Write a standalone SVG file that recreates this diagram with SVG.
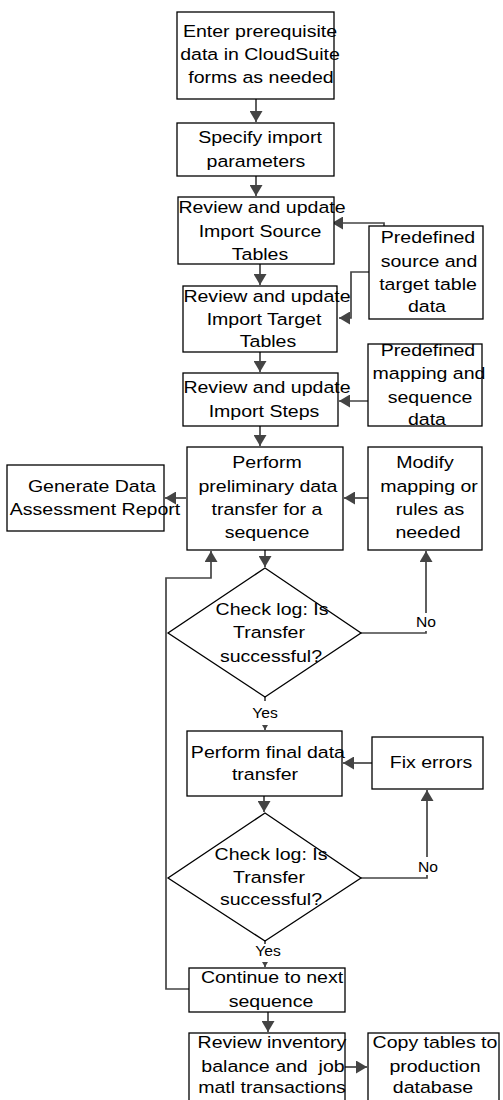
<svg xmlns="http://www.w3.org/2000/svg" width="503" height="1100" viewBox="0 0 503 1100">
<style>
.box{fill:#fff;stroke:#000;stroke-width:1.3}
.c{fill:none;stroke:#444;stroke-width:1.7}
.t{font-family:"Liberation Sans",Arial,sans-serif;font-size:17px;fill:#000;text-anchor:middle;transform-box:fill-box;transform-origin:center;transform:scaleX(1.15)}
.s{font-family:"Liberation Sans",Arial,sans-serif;font-size:14px;fill:#000;text-anchor:middle;transform-box:fill-box;transform-origin:center;transform:scaleX(1.12)}
.bg{fill:#fff;stroke:none}
</style>
<defs>
<marker id="a" markerUnits="userSpaceOnUse" markerWidth="11" markerHeight="13" viewBox="0 0 11 13" refX="11" refY="6.5" orient="auto"><path d="M0,0 L11,6.5 L0,13 z" fill="#444"/></marker>
<marker id="sa" markerUnits="userSpaceOnUse" markerWidth="5" markerHeight="6" viewBox="0 0 5 6" refX="5" refY="3" orient="auto"><path d="M0,0 L5,3 L0,6 z" fill="#444"/></marker>
</defs>
<rect width="503" height="1100" fill="#fff"/>
<g id="connectors">
<path class="c" d="M256,99 V122" marker-end="url(#a)"/>
<path class="c" d="M256,176 V196" marker-end="url(#a)"/>
<path class="c" d="M260,264 V285" marker-end="url(#a)"/>
<path class="c" d="M260,352 V372" marker-end="url(#a)"/>
<path class="c" d="M260,426 V446" marker-end="url(#a)"/>
<path class="c" d="M265,550 V567" marker-end="url(#a)"/>
<path class="c" d="M264,796 V812" marker-end="url(#a)"/>
<path class="c" d="M268,1012 V1032" marker-end="url(#a)"/>
<path class="c" d="M384,272 V223 H332" marker-end="url(#a)"/>
<path class="c" d="M384,272 H351 V318 H339" marker-end="url(#a)"/>
<path class="c" d="M369,385 H384 V401 H339" marker-end="url(#a)"/>
<path class="c" d="M368,498 H344" marker-end="url(#a)"/>
<path class="c" d="M186,498 H165" marker-end="url(#a)"/>
<path class="c" d="M361,633 H426 V551" marker-end="url(#a)"/>
<path class="c" d="M189,989 H166 V578 H211 V551" marker-end="url(#a)"/>
<path class="c" d="M372,763 H343" marker-end="url(#a)"/>
<path class="c" d="M361,878 H427 V790" marker-end="url(#a)"/>
<path class="c" d="M345,1067 H367" marker-end="url(#a)"/>
<path class="c" d="M265,697 V730" stroke-width="1" marker-end="url(#sa)"/>
<path class="c" d="M265,941 V967" stroke-width="1" marker-end="url(#sa)"/>
<rect class="bg" x="250" y="701" width="30" height="24"/>
<text class="s" x="265" y="718">Yes</text>
<rect class="bg" x="252" y="944" width="30" height="18"/>
<text class="s" x="268" y="956">Yes</text>
<rect class="bg" x="414" y="613" width="26" height="18"/>
<text class="s" x="426" y="627">No</text>
<rect class="bg" x="415" y="857" width="26" height="18"/>
<text class="s" x="428" y="872">No</text>
</g>
<g id="n1"><rect class="box" x="177" y="12" width="157" height="87"/>
<text class="t" x="260" y="37">Enter prerequisite</text><text class="t" x="260" y="60">data in CloudSuite</text><text class="t" x="261" y="83">forms as needed</text></g>
<g id="n2"><rect class="box" x="177" y="123" width="157" height="53"/>
<text class="t" x="260" y="143">Specify import</text><text class="t" x="256" y="167">parameters</text></g>
<g id="n3"><rect class="box" x="178" y="197" width="156" height="67"/>
<text class="t" x="262" y="213">Review and update</text><text class="t" x="260" y="237">Import Source</text><text class="t" x="260" y="260">Tables</text></g>
<g id="n4"><rect class="box" x="183" y="286" width="154" height="66"/>
<text class="t" x="267" y="302">Review and update</text><text class="t" x="264" y="325">Import Target</text><text class="t" x="268" y="347">Tables</text></g>
<g id="n5"><rect class="box" x="369" y="226" width="114" height="93"/>
<text class="t" x="428" y="243">Predefined</text><text class="t" x="429" y="267">source and</text><text class="t" x="428" y="290">target table</text><text class="t" x="427" y="312">data</text></g>
<g id="n6"><rect class="box" x="183" y="373" width="155" height="53"/>
<text class="t" x="267" y="393">Review and update</text><text class="t" x="264" y="417">Import Steps</text></g>
<g id="n7"><rect class="box" x="368" y="344" width="114" height="82"/>
<text class="t" x="428" y="356">Predefined</text><text class="t" x="429" y="379">mapping and</text><text class="t" x="430" y="403">sequence</text><text class="t" x="427" y="425">data</text></g>
<g id="n8"><rect class="box" x="187" y="447" width="156" height="103"/>
<text class="t" x="267" y="468">Perform</text><text class="t" x="268" y="492">preliminary data</text><text class="t" x="267" y="515">transfer for a</text><text class="t" x="267" y="538">sequence</text></g>
<g id="n9"><rect class="box" x="368" y="447" width="114" height="103"/>
<text class="t" x="425" y="468">Modify</text><text class="t" x="429" y="492">mapping or</text><text class="t" x="430" y="515">rules as</text><text class="t" x="428" y="538">needed</text></g>
<g id="n10"><rect class="box" x="7" y="465" width="157" height="66"/>
<text class="t" x="92" y="492">Generate Data</text><text class="t" x="95" y="515">Assessment Report</text></g>
<g id="n11"><path class="box" d="M265,568 L361,633 L265,697 L168,633 Z"/>
<text class="t" x="272" y="615">Check log: Is</text><text class="t" x="269" y="638">Transfer</text><text class="t" x="271" y="662">successful?</text></g>
<g id="n12"><rect class="box" x="187" y="731" width="155" height="65"/>
<text class="t" x="268" y="758">Perform final data</text><text class="t" x="265" y="780">transfer</text></g>
<g id="n13"><rect class="box" x="372" y="737" width="111" height="52"/>
<text class="t" x="431" y="768">Fix errors</text></g>
<g id="n14"><path class="box" d="M265,813 L361,878 L265,941 L168,878 Z"/>
<text class="t" x="271" y="860">Check log: Is</text><text class="t" x="269" y="883">Transfer</text><text class="t" x="271" y="905">successful?</text></g>
<g id="n15"><rect class="box" x="189" y="968" width="156" height="44"/>
<text class="t" x="272" y="983">Continue to next</text><text class="t" x="271" y="1007">sequence</text></g>
<g id="n16"><rect class="box" x="189" y="1033" width="156" height="75"/>
<text class="t" x="272" y="1048">Review inventory</text><text class="t" x="273" y="1072" xml:space="preserve">balance and  job</text><text class="t" x="272" y="1093">matl transactions</text></g>
<g id="n17"><rect class="box" x="368" y="1033" width="131" height="75"/>
<text class="t" x="435" y="1048">Copy tables to</text><text class="t" x="435" y="1072">production</text><text class="t" x="433" y="1093">database</text></g>
</svg>
